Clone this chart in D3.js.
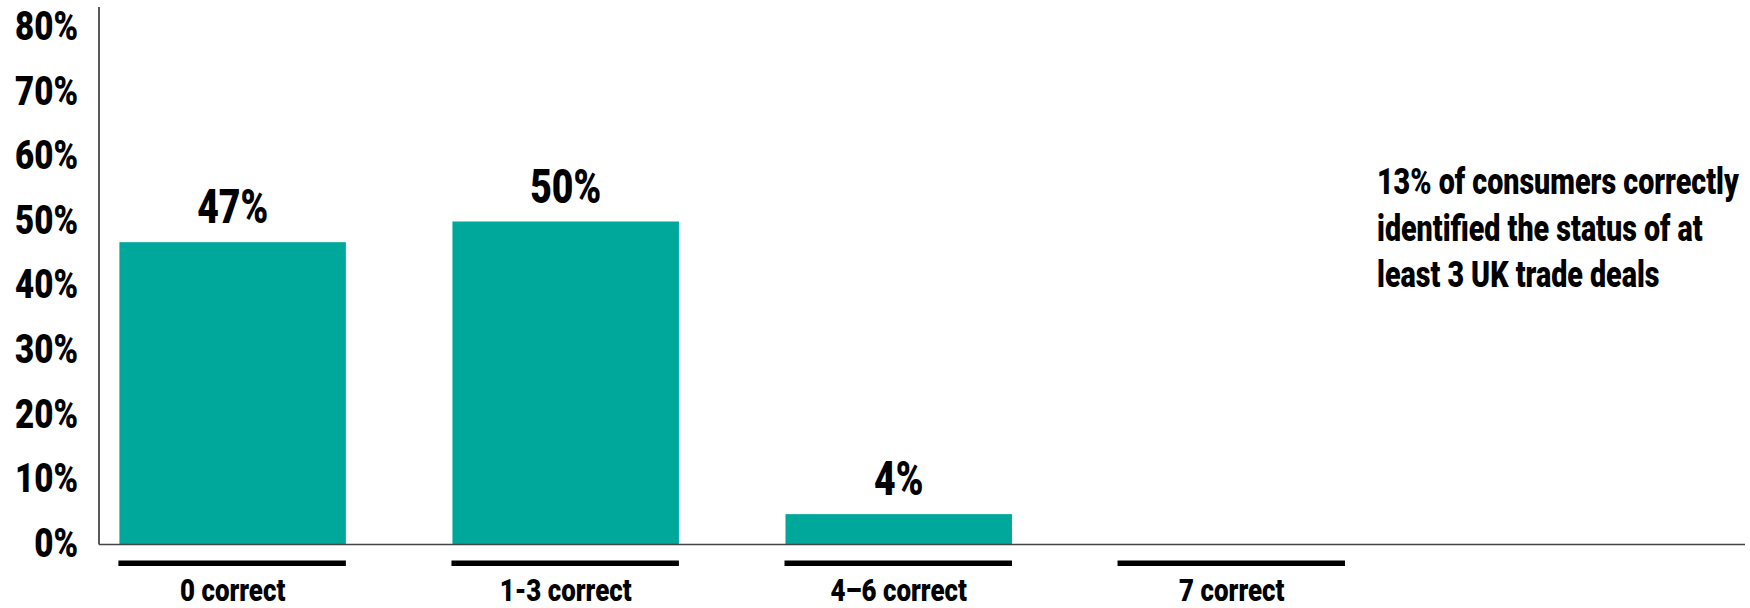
<!DOCTYPE html>
<html>
<head>
<meta charset="utf-8">
<script src="https://cdn.jsdelivr.net/npm/d3@7"></script>
<style>
  html, body { margin: 0; padding: 0; background: #fff; }
  svg { display: block; font-family: Roboto, 'Liberation Sans', sans-serif; font-weight: 900; }
</style>
</head>
<body>
<svg class="container"></svg>
<script>
// Data
const categories = ['0 correct', '1-3 correct', '4–6 correct', '7 correct'];
const values = [46.8, 50, 4.7, 0];
const valueLabels = ['47%', '50%', '4%', ''];
const yTicks = [0, 10, 20, 30, 40, 50, 60, 70, 80];
const calloutLines = [
  '13% of consumers correctly',
  'identified the status of at',
  'least 3 UK trade deals',
];

const dataset = categories.map((cat, i) => ({
  cat,
  value: values[i],
  label: valueLabels[i],
}));

const WIDTH = 1750;
const HEIGHT = 608;
const AXIS_X = 99;
const BASE_Y = 544.5;
const TEAL = '#00a89c';

const xScale = d3.scaleBand()
  .domain(categories)
  .range([119.4, 1345])
  .paddingInner(0.32)
  .paddingOuter(0);

const yScale = d3.scaleLinear()
  .domain([0, 80])
  .range([BASE_Y, 27.7]);

const svg = d3.select('.container')
  .attr('width', WIDTH)
  .attr('height', HEIGHT);

// The original uses a heavy condensed face; squeeze Roboto horizontally
// so that a sample string hits the width it has in the picture.
function squeeze(fontSize, sample, targetWidth) {
  const t = svg.append('text').style('font-size', `${fontSize}px`).text(sample);
  const w = t.node().getComputedTextLength();
  t.remove();
  return targetWidth / w;
}
const SX_TICK = squeeze(40, '80%', 63);
const SX_VALUE = squeeze(48, '47%', 71);
const SX_CAT = squeeze(31, '1-3 correct', 132);
const SX_NOTE = squeeze(37, calloutLines[0], 362);

const place = (x, y, sx) => `translate(${x},${y}) scale(${sx},1)`;

// y tick labels (no tick marks)
svg.append('g')
  .attr('class', 'y-ticks')
  .selectAll('text')
  .data(yTicks)
  .enter()
  .append('text')
  .attr('transform', d => place(78, yScale(d) - 2, SX_TICK))
  .attr('dy', '0.355em')
  .attr('text-anchor', 'end')
  .style('font-size', '40px')
  .style('fill', '#000')
  .text(d => `${d}%`);

// bars
svg.append('g')
  .attr('class', 'bars')
  .selectAll('rect')
  .data(dataset)
  .enter()
  .append('rect')
  .attr('x', d => xScale(d.cat))
  .attr('y', d => yScale(d.value))
  .attr('width', xScale.bandwidth())
  .attr('height', d => BASE_Y - yScale(d.value))
  .attr('fill', TEAL);

// value labels above bars
svg.append('g')
  .attr('class', 'value-labels')
  .selectAll('text')
  .data(dataset)
  .enter()
  .append('text')
  .attr('transform', d => place(xScale(d.cat) + xScale.bandwidth() / 2, yScale(d.value) - 19, SX_VALUE))
  .attr('text-anchor', 'middle')
  .style('font-size', '48px')
  .style('fill', '#000')
  .text(d => d.label);

// axis lines
svg.append('line')
  .attr('x1', AXIS_X)
  .attr('x2', AXIS_X)
  .attr('y1', 7)
  .attr('y2', BASE_Y)
  .attr('stroke', '#222')
  .attr('stroke-width', 1.5);

svg.append('line')
  .attr('x1', AXIS_X)
  .attr('x2', 1745)
  .attr('y1', BASE_Y)
  .attr('y2', BASE_Y)
  .attr('stroke', '#444')
  .attr('stroke-width', 1.5);

// category underline bars + labels
const cats = svg.append('g')
  .attr('class', 'categories')
  .selectAll('g')
  .data(categories)
  .enter()
  .append('g');

cats.append('rect')
  .attr('x', d => xScale(d) - 1)
  .attr('y', 560.5)
  .attr('width', xScale.bandwidth() + 1)
  .attr('height', 5.5)
  .attr('fill', '#000');

cats.append('text')
  .attr('transform', d => place(xScale(d) + xScale.bandwidth() / 2, 601, SX_CAT))
  .attr('text-anchor', 'middle')
  .style('font-size', '31px')
  .style('fill', '#000')
  .text(d => d);

// callout text
svg.append('g')
  .attr('class', 'callout')
  .selectAll('text')
  .data(calloutLines)
  .enter()
  .append('text')
  .attr('transform', (d, i) => place(1377, 194 + i * 46.5, SX_NOTE))
  .style('font-size', '37px')
  .style('fill', '#000')
  .text(d => d);
</script>
</body>
</html>
